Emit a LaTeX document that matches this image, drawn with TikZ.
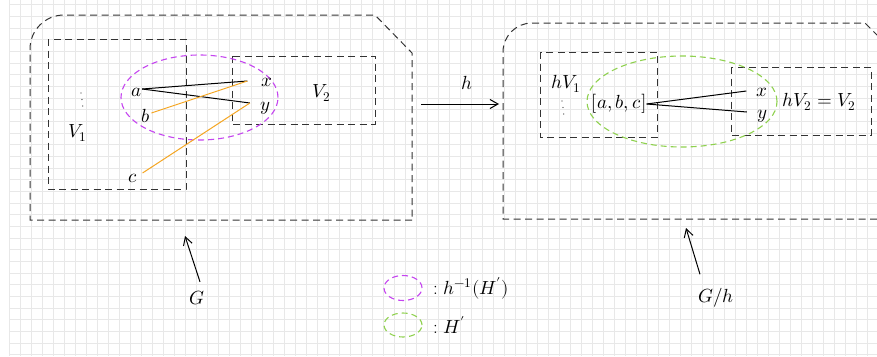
\documentclass[tikz,border=0pt]{standalone}
\usepackage{amsmath}
\usepackage{unicode-math}
\setmathfont{Latin Modern Math}
\usetikzlibrary{arrows.meta}
\definecolor{gridc}{HTML}{E8E8E8}
\definecolor{dashc}{HTML}{333333}
\definecolor{preimg}{HTML}{C545F0}
\definecolor{imgc}{HTML}{8FD14F}
\definecolor{edgeor}{HTML}{F5A623}

\begin{document}
\begin{tikzpicture}[x=1pt,y=-1pt,
  region/.style={draw=dashc, line width=1pt, dash pattern=on 7pt off 4.5pt},
  blob/.style={line width=1.1pt, dash pattern=on 6pt off 4pt},
  lbl/.style={inner sep=0pt, font=\fontsize{19}{22}\selectfont},
  vdot/.style={circle, fill=dashc, inner sep=0pt, minimum size=1.3pt},
  link/.style={line width=1pt, black},
  orlink/.style={line width=1pt, edgeor},
  tip/.style={-{Straight Barb[length=8pt,width=9pt]}, line width=1pt}
]
\useasboundingbox (0,0) rectangle (877,356);
\clip (0,0) rectangle (877,356);
\fill[white] (0,0) rectangle (877,356);

% squared paper
\foreach \k in {0,...,79}
  \draw[gridc, line width=0.6pt] ({9.3+11*\k},0) -- ({9.3+11*\k},356);
\foreach \k in {0,...,30}
  \draw[gridc, line width=0.6pt] (9,{4.6+11.67*\k}) -- (877,{4.6+11.67*\k});

% ---- graph G ----
\draw[region] (412,220) -- (30,220) [rounded corners=34pt] -- (30,15) [sharp corners] -- (375,15) -- (412,53) -- cycle;
\draw[region] (48,39) rectangle (186,189);
\draw[region] (232,56) rectangle (375,124);
\draw[blob, preimg] (199.5,97.5) ellipse [x radius=78.5pt, y radius=42.5pt];

\node[lbl] (a) at (137,92) {$a$};
\node[lbl] (b) at (146,116) {$b$};
\node[lbl] (c) at (133,178) {$c$};
\node[lbl] (x) at (267,82) {$x$};
\node[lbl] (y) at (265,108) {$y$};
\node[lbl] (V2) at (322,93) {$V_2$};
\node[lbl] (V1) at (78,133) {$V_1$};
% vertical ellipsis inside V1
\foreach \j in {0,1,2}
  \node[vdot] (l\j) at ({81+0.9*\j},{93+6.5*\j}) {};

\draw[link] ([yshift=3pt]a.east) -- ([xshift=-14pt,yshift=1pt]x.west);
\draw[link] ([yshift=3pt]a.east) -- ([xshift=-10pt,yshift=5pt]y.west);
\draw[orlink] ([xshift=1pt,yshift=3pt]b.east) -- ([xshift=-14pt,yshift=1pt]x.west);
\draw[orlink] ([xshift=5pt,yshift=5pt]c.east) -- ([xshift=-10pt,yshift=5pt]y.west);

% ---- quotient map h ----
\coordinate (hs) at (421,104);
\coordinate (he) at (499,104);
\draw[tip] (hs) -- (he);
\node[lbl] (hl) at (467,83) {$h$};

% ---- graph G/h ----
\draw[region] (900,219) -- (503,219) [rounded corners=29pt] -- (503,23) [sharp corners] -- (865,23) -- (900,58) -- cycle;
\draw[region] (540,52) rectangle (657,137);
\draw[region] (731,67) rectangle (871,135);
\draw[blob, imgc] (682,101.5) ellipse [x radius=95pt, y radius=45.5pt];

\node[lbl] (abc) at (619,104) {$[a,b,c]$};
\node[lbl] (x2) at (762,92) {$x$};
\node[lbl] (y2) at (762,116) {$y$};
\node[lbl] (hV2) at (819,102) {$hV_2 = V_2$};
\node[lbl] (hV1) at (566,84) {$hV_1$};
\foreach \j in {0,1,2}
  \node[vdot] (r\j) at ({562+0.9*\j},{101+6.5*\j}) {};

\draw[link] (abc.east) -- ([xshift=-10pt,yshift=1pt]x2.west);
\draw[link] (abc.east) -- ([xshift=-10pt,yshift=4pt]y2.west);

% ---- captions ----
\node[lbl] (G) at (197,298) {$G$};
\coordinate (Gtip) at (185,236);
\draw[tip] ([xshift=3pt,yshift=9pt]G.north) -- (Gtip);

\node[lbl] (Gh) at (716,298) {$G/h$};
\coordinate (Ghtip) at (686,228);
\draw[tip] ([xshift=-16pt,yshift=14pt]Gh.north) -- (Ghtip);

% ---- legend ----
\draw[blob, preimg] (403,288) ellipse [x radius=19pt, y radius=12.5pt];
\node[lbl, anchor=west] (leg1) at (433,288) {:\ $h^{-1}(H')$};
\draw[blob, imgc] (403,325) ellipse [x radius=19pt, y radius=12pt];
\node[lbl, anchor=west] (leg2) at (433,325) {:\ $H'$};
\end{tikzpicture}
\end{document}
